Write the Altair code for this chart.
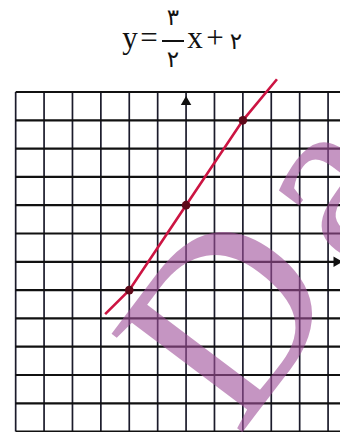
import altair as alt
import pandas as pd

# ---- data ----
grid_x = [-6, -5, -4, -3, -2, -1, 0, 1, 2, 3, 4, 5, 6]
grid_y = [-6, -5, -4, -3, -2, -1, 0, 1, 2, 3, 4, 5, 6]
line_x = [-2.85, -2, 0, 2, 3.2]
line_y = [-1.85, -1, 2, 5, 6.45]
point_x = [-2, 0, 2]
point_y = [-1, 2, 5]
arrow_x = [0, 5.35]
arrow_y = [5.7, 0]
arrow_shape = ["triangle-up", "triangle-right"]
title_parts = ["y", "=", "۳", "۲", "x", "+", "۲"]
watermark_parts = ["D", "a"]

X = alt.Scale(domain=[-6.27, 5.42], nice=False, zero=False)
Y = alt.Scale(domain=[-6.014, 8.968], nice=False, zero=False)

vgrid = pd.DataFrame({"x": grid_x, "y0": [min(grid_y)] * len(grid_x), "y1": [max(grid_y)] * len(grid_x)})
hgrid = pd.DataFrame({"y": grid_y, "x0": [min(grid_x)] * len(grid_y), "x1": [max(grid_x)] * len(grid_y)})
line_df = pd.DataFrame({"x": line_x, "y": line_y})
pts_df = pd.DataFrame({"x": point_x, "y": point_y})
arr_df = pd.DataFrame({"x": arrow_x, "y": arrow_y, "s": arrow_shape})
one = pd.DataFrame({"k": [0]})

vlines = alt.Chart(vgrid).mark_rule(color="#1b1b2b", strokeWidth=1.7, clip=True).encode(
    x=alt.X("x:Q", scale=X, axis=None),
    y=alt.Y("y0:Q", scale=Y, axis=None),
    y2="y1:Q",
)
hlines = alt.Chart(hgrid).mark_rule(color="#111111", strokeWidth=2.2, clip=True).encode(
    y=alt.Y("y:Q", scale=Y, axis=None),
    x=alt.X("x0:Q", scale=X, axis=None),
    x2="x1:Q",
)
red_line = alt.Chart(line_df).mark_line(color="#cc1442", strokeWidth=2.6, clip=True).encode(
    x=alt.X("x:Q", scale=X, axis=None),
    y=alt.Y("y:Q", scale=Y, axis=None),
    order=alt.Order("x:Q"),
)
dots = alt.Chart(pts_df).mark_circle(color="#5e0a1a", size=75, opacity=1).encode(
    x=alt.X("x:Q", scale=X, axis=None),
    y=alt.Y("y:Q", scale=Y, axis=None),
)
arrows = alt.Chart(arr_df).mark_point(filled=True, color="#111111", size=110, opacity=1).encode(
    x=alt.X("x:Q", scale=X, axis=None),
    y=alt.Y("y:Q", scale=Y, axis=None),
    shape=alt.Shape("s:N", scale=None),
)


def wm_piece(s, px, py, size):
    return alt.Chart(one).mark_text(
        text=s, font="Liberation Serif", fontSize=size, angle=307,
        align="left", baseline="alphabetic", color="#a0509a", opacity=0.6, clip=True,
    ).encode(x=alt.value(px), y=alt.value(py))


wm_d = wm_piece(watermark_parts[0], 230, 430, 250)
wm_a = wm_piece(watermark_parts[1], 348, 268, 250)


def piece(s, px, py, size, font):
    return alt.Chart(one).mark_text(
        text=s, fontSize=size, font=font, align="center", baseline="alphabetic", color="#111111"
    ).encode(x=alt.value(px), y=alt.value(py))


serif = "Liberation Serif"
digits = "DejaVu Sans"
title_layers = [
    piece(title_parts[0], 122, 40, 31, serif),
    piece(title_parts[1], 141, 40, 31, serif),
    piece(title_parts[2], 165, 17, 23, digits),
    piece(title_parts[3], 165, 59, 23, digits),
    piece(title_parts[4], 187, 40, 31, serif),
    piece(title_parts[5], 207, 40, 31, serif),
    piece(title_parts[6], 228, 41, 23, digits),
]
bar = alt.Chart(one).mark_rule(color="#111111", strokeWidth=2).encode(
    x=alt.value(154), x2=alt.value(176), y=alt.value(33)
)

chart = alt.layer(vlines, hlines, red_line, dots, arrows, wm_d, wm_a, bar, *title_layers).properties(
    width=332, height=424, padding=0, autosize="none", background="white"
).configure_view(strokeWidth=0)

chart.save("out.html", embed_options={"renderer": "svg", "actions": False})
